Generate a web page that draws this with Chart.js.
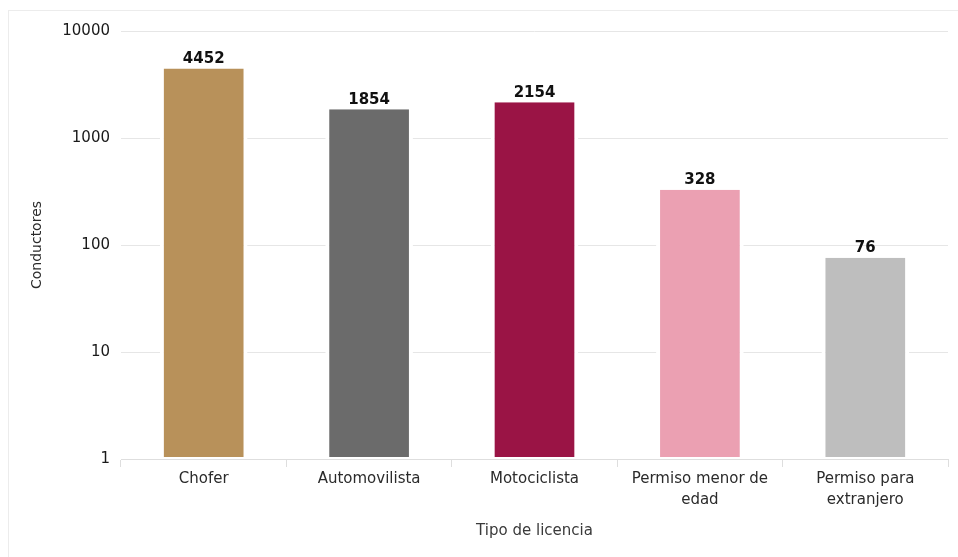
<!DOCTYPE html>
<html>
<head>
<meta charset="utf-8">
<script src="https://cdn.jsdelivr.net/npm/chart.js@4/dist/chart.umd.min.js"></script>
<style>
  html, body { margin: 0; padding: 0; background: #fff; }
  #frame {
    position: absolute; left: 8px; top: 10px; width: 960px; height: 560px;
    border-left: 1px solid #ececec; border-top: 1px solid #ececec;
  }
  #chart { position: absolute; left: 0; top: 0; }
</style>
</head>
<body>
<div id="frame"></div>
<canvas id="chart" width="958" height="557"></canvas>
<script>
'use strict';

// data
const categories = ['Chofer', 'Automovilista', 'Motociclista', ['Permiso menor de', 'edad'], ['Permiso para', 'extranjero']];
const conductores = [4452, 1854, 2154, 328, 76];
const barColors = ['#b8915a', '#6b6b6b', '#9a1445', '#eba0b2', '#bebebe'];
const yTicks = [1, 10, 100, 1000, 10000];

const FONT = "'DejaVu Sans', sans-serif";

// value labels above each bar
const valueLabels = {
    id: 'valueLabels',
    afterDatasetsDraw(chart) {
        const ctx = chart.ctx;
        const meta = chart.getDatasetMeta(0);
        ctx.save();
        ctx.font = 'bold 15px ' + FONT;
        ctx.fillStyle = '#111';
        ctx.textAlign = 'center';
        ctx.textBaseline = 'bottom';
        meta.data.forEach((bar, i) => {
            ctx.fillText(String(conductores[i]), bar.x, bar.y - 2);
        });
        ctx.restore();
    }
};

const chartCtx = document.querySelector('#chart');

const chartConfig = {
    type: 'bar',
    data: {
        labels: categories,
        datasets: [{
            label: 'Conductores',
            data: conductores,
            backgroundColor: barColors,
            borderColor: '#ffffff',
            borderWidth: { left: 4, right: 4, top: 0, bottom: 2 },
            borderSkipped: false,
            categoryPercentage: 1,
            barPercentage: 0.53
        }]
    },
    options: {
        responsive: false,
        animation: false,
        layout: {
            padding: { top: 31, right: 10, left: 0, bottom: 0 }
        },
        scales: {
            x: {
                grid: {
                    offset: true,
                    drawOnChartArea: false,
                    tickLength: 8,
                    color: '#dedede'
                },
                border: { color: '#dedede' },
                ticks: {
                    color: '#2b2b2b',
                    padding: 2,
                    maxRotation: 0,
                    font: { family: FONT, size: 15, lineHeight: 1.4 }
                },
                title: {
                    display: true,
                    text: 'Tipo de licencia',
                    color: '#3a3a3a',
                    padding: { top: 0, bottom: 17 },
                    font: { family: FONT, size: 15 }
                },
                afterFit: scale => { scale.height = 98; }
            },
            y: {
                type: 'logarithmic',
                min: 1,
                max: 10000,
                afterBuildTicks: scale => {
                    scale.ticks = yTicks.map(v => ({ value: v }));
                },
                grid: {
                    drawTicks: false,
                    color: '#e6e6e6'
                },
                border: { display: false },
                ticks: {
                    color: '#1a1a1a',
                    padding: 11,
                    font: { family: FONT, size: 15 },
                    callback: value => String(value)
                },
                title: {
                    display: true,
                    text: 'Conductores',
                    color: '#2b2b2b',
                    padding: { top: 29, bottom: 0 },
                    font: { family: FONT, size: 14 }
                },
                afterFit: scale => { scale.width = 121; }
            }
        },
        plugins: {
            legend: { display: false },
            tooltip: { enabled: false }
        }
    },
    plugins: [valueLabels]
};

const conductoresChart = new Chart(chartCtx, chartConfig);
</script>
</body>
</html>
